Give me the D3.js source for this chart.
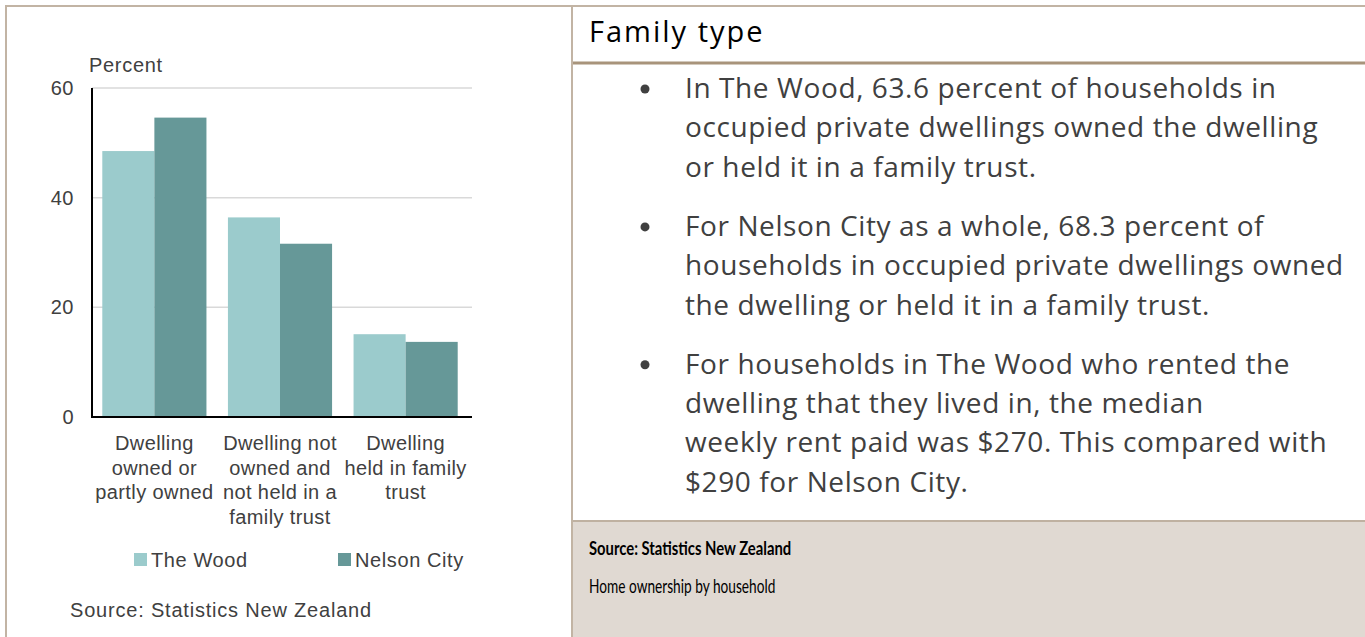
<!DOCTYPE html>
<html>
<head>
<meta charset="utf-8">
<script src="https://cdn.jsdelivr.net/npm/d3@7"></script>
<style>
  body { margin: 0; background: #fff; }
  svg { display: block; }
</style>
</head>
<body>
<div id="chart"></div>
<script>
// data
var categories = ["Dwelling owned or partly owned", "Dwelling not owned and not held in a family trust", "Dwelling held in family trust"];
var categoryLines = [["Dwelling", "owned or", "partly owned"], ["Dwelling not", "owned and", "not held in a", "family trust"], ["Dwelling", "held in family", "trust"]];
var seriesNames = ["The Wood", "Nelson City"];
var theWood = [48.5, 36.4, 15.1];
var nelsonCity = [54.6, 31.6, 13.7];
var yTicks = [0, 20, 40, 60];
var colors = ["#9bcbcc", "#669898"];

var bullets = [
  ["In The Wood, 63.6 percent of households in", "occupied private dwellings owned the dwelling", "or held it in a family trust."],
  ["For Nelson City as a whole, 68.3 percent of", "households in occupied private dwellings owned", "the dwelling or held it in a family trust."],
  ["For households in The Wood who rented the", "dwelling that they lived in, the median", "weekly rent paid was $270. This compared with", "$290 for Nelson City."]
];

var W = 1365, H = 637;
var svg = d3.select("#chart").append("svg").attr("width", W).attr("height", H);

var chartFont = "'Liberation Sans', Arial, sans-serif";
var sideFont = "'Open Sans', sans-serif";
var footFont = "Lato, sans-serif";
var txt = "#404040";

// panels
svg.append("rect").attr("x", 573).attr("y", 521).attr("width", W - 573).attr("height", H - 521).attr("fill", "#e0d9d2");
svg.append("line").attr("x1", 573).attr("x2", W).attr("y1", 521).attr("y2", 521).attr("stroke", "#bfb1a1").attr("stroke-width", 2);
svg.append("line").attr("x1", 573).attr("x2", W).attr("y1", 63).attr("y2", 63).attr("stroke", "#a8947b").attr("stroke-width", 3);
svg.append("line").attr("x1", 5).attr("x2", W).attr("y1", 6).attr("y2", 6).attr("stroke", "#c2b4a4").attr("stroke-width", 2);
svg.append("line").attr("x1", 6).attr("x2", 6).attr("y1", 5).attr("y2", H).attr("stroke", "#c2b4a4").attr("stroke-width", 2);
svg.append("line").attr("x1", 572).attr("x2", 572).attr("y1", 5).attr("y2", H).attr("stroke", "#c2b4a4").attr("stroke-width", 2);

// bar chart
var plot = {left: 92, right: 472, top: 88, bottom: 417};

var x0 = d3.scaleBand().domain(categories).range([plot.left, 468]).paddingInner(0.171).paddingOuter(0.082);
var x1 = d3.scaleBand().domain(seriesNames).range([0, x0.bandwidth()]);
var y = d3.scaleLinear().domain([0, 60]).range([plot.bottom, plot.top]);

var g = svg.append("g");

g.selectAll(".grid").data(yTicks.filter(function(d) { return d > 0; })).enter().append("line")
  .attr("x1", plot.left).attr("x2", plot.right)
  .attr("y1", function(d) { return y(d); }).attr("y2", function(d) { return y(d); })
  .attr("stroke", "#d9d9d9").attr("stroke-width", 1.5);

var yAxis = d3.axisLeft(y).tickValues(yTicks).tickSize(0).tickPadding(18);
var ya = g.append("g").attr("transform", "translate(" + plot.left + ",0)").call(yAxis);
ya.select(".domain").remove();
ya.selectAll("text").style("font-family", chartFont).style("font-size", "20px").style("fill", txt).style("letter-spacing", "0.5px");

var rows = categories.map(function(c, i) {
  return {cat: c, values: [{name: seriesNames[0], v: theWood[i]}, {name: seriesNames[1], v: nelsonCity[i]}]};
});

var grp = g.selectAll(".grp").data(rows).enter().append("g")
  .attr("transform", function(d) { return "translate(" + x0(d.cat) + ",0)"; });
grp.selectAll("rect").data(function(d) { return d.values; }).enter().append("rect")
  .attr("x", function(d) { return x1(d.name); })
  .attr("width", x1.bandwidth())
  .attr("y", function(d) { return y(d.v); })
  .attr("height", function(d) { return y(0) - y(d.v); })
  .attr("fill", function(d, i) { return colors[i]; });

// axis lines
g.append("line").attr("x1", plot.left).attr("x2", plot.left).attr("y1", plot.top).attr("y2", plot.bottom + 1).attr("stroke", "#000").attr("stroke-width", 2);
g.append("line").attr("x1", plot.left - 1).attr("x2", plot.right).attr("y1", plot.bottom).attr("y2", plot.bottom).attr("stroke", "#000").attr("stroke-width", 2);

// category labels
categories.forEach(function(c, i) {
  var t = g.append("text").attr("text-anchor", "middle")
    .style("font-family", chartFont).style("font-size", "20px").style("fill", txt).style("letter-spacing", "0.4px");
  categoryLines[i].forEach(function(line, j) {
    t.append("tspan").attr("x", x0(c) + x0.bandwidth() / 2).attr("y", 450 + j * 24.7).text(line);
  });
});

g.append("text").attr("x", 89).attr("y", 72).text("Percent")
  .style("font-family", chartFont).style("font-size", "20px").style("fill", txt).style("letter-spacing", "0.7px");

// legend
var legX = [134, 338];
seriesNames.forEach(function(s, i) {
  g.append("rect").attr("x", legX[i]).attr("y", 553).attr("width", 13).attr("height", 13).attr("fill", colors[i]);
  g.append("text").attr("x", legX[i] + 17).attr("y", 567).text(s)
    .style("font-family", chartFont).style("font-size", "20px").style("fill", txt).style("letter-spacing", "0.6px");
});

g.append("text").attr("x", 70).attr("y", 617).text("Source: Statistics New Zealand")
  .style("font-family", chartFont).style("font-size", "20px").style("fill", txt).style("letter-spacing", "0.8px");

// right side text
svg.append("text").attr("x", 589).attr("y", 42).text("Family type")
  .style("font-family", sideFont).style("font-size", "29px").style("fill", "#000").style("letter-spacing", "2px");

var baseY = 98, lineH = 39.3, gap = 20;
var yy = baseY;
bullets.forEach(function(b) {
  svg.append("circle").attr("cx", 645).attr("cy", yy - 9).attr("r", 4.5).attr("fill", txt);
  b.forEach(function(line, j) {
    svg.append("text").attr("x", 685).attr("y", yy + j * lineH).text(line)
      .style("font-family", sideFont).style("font-size", "28px").style("fill", txt).style("letter-spacing", "0.6px");
  });
  yy += b.length * lineH + gap;
});

svg.append("text").attr("transform", "translate(589,555) scale(0.78,1)").text("Source: Statistics New Zealand")
  .style("font-family", footFont).style("font-size", "19px").style("font-weight", "bold").style("fill", "#000");
svg.append("text").attr("transform", "translate(589,593) scale(0.74,1)").text("Home ownership by household")
  .style("font-family", footFont).style("font-size", "18.5px").style("fill", "#000");
</script>
</body>
</html>
